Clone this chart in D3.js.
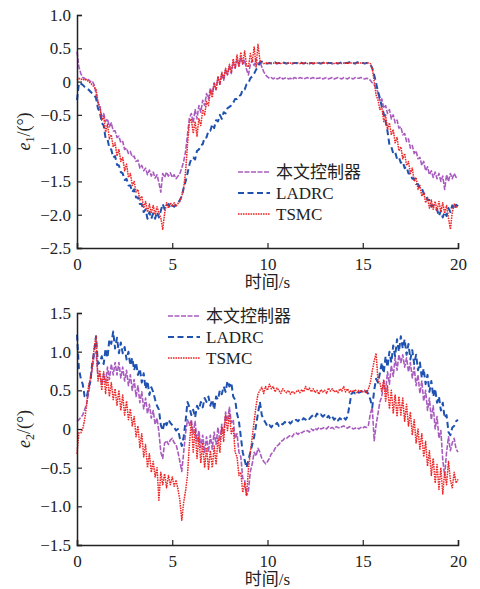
<!DOCTYPE html>
<html>
<head>
<meta charset="utf-8">
<script src="https://cdn.jsdelivr.net/npm/d3@7"></script>
<style>
  body { margin: 0; background: #fff; }
</style>
</head>
<body>
<svg id="svg" width="480" height="589"></svg>
<script>
const FONT = "'Liberation Serif', 'Times New Roman', 'Noto Sans CJK SC', serif";

// sample times, 0 .. 20 s every 0.1 s
const time = d3.range(0, 201).map(i => i / 10);

const seriesNames = ["本文控制器", "LADRC", "TSMC"];
const xTicks = [0, 5, 10, 15, 20];
const e1Ticks = [1.0, 0.5, 0, -0.5, -1.0, -1.5, -2.0, -2.5];
const e2Ticks = [1.5, 1.0, 0.5, 0, -0.5, -1.0, -1.5];

// e1, proposed controller
const e1Ours = [
  0.45, 0.22, 0.12, 0.06, 0.05, 0.02, 0.03, 0.0, 0.01, -0.05,
  -0.18, -0.32, -0.38, -0.52, -0.48, -0.6, -0.56, -0.68, -0.62, -0.74,
  -0.74, -0.84, -0.82, -0.92, -0.9, -1.02, -1.0, -1.08, -1.05, -1.13,
  -1.12, -1.2, -1.18, -1.3, -1.26, -1.34, -1.3, -1.4, -1.33, -1.42,
  -1.36, -1.45, -1.4, -1.52, -1.66, -1.38, -1.44, -1.36, -1.42, -1.37,
  -1.44, -1.4, -1.46, -1.42, -1.38, -1.3, -1.2, -1.05, -0.8, -0.55,
  -0.48, -0.62, -0.42, -0.56, -0.36, -0.46, -0.28, -0.36, -0.18, -0.26,
  -0.1, -0.18, -0.02, -0.12, 0.06, -0.04, 0.12, 0.02, 0.18, 0.1,
  0.24, 0.12, 0.3, 0.2, 0.34, 0.24, 0.36, 0.26, 0.32, 0.18,
  0.1, 0.26, 0.32, 0.24, 0.34, 0.26, 0.3, 0.22, 0.15, 0.1,
  0.07, 0.05, 0.06, 0.04, 0.06, 0.04, 0.05, 0.07, 0.04, 0.05,
  0.06, 0.04, 0.05, 0.03, 0.06, 0.05, 0.04, 0.06, 0.05, 0.04,
  0.05, 0.06, 0.04, 0.05, 0.06, 0.04, 0.05, 0.05, 0.06, 0.04,
  0.05, 0.06, 0.04, 0.05, 0.06, 0.04, 0.05, 0.06, 0.05, 0.04,
  0.06, 0.05, 0.04, 0.06, 0.05, 0.04, 0.06, 0.05, 0.05, 0.06,
  0.05, 0.04, 0.05, 0.04, 0.02, -0.02, -0.05, -0.1, -0.16, -0.3,
  -0.26, -0.4, -0.36, -0.48, -0.42, -0.56, -0.5, -0.62, -0.58, -0.7,
  -0.68, -0.8, -0.78, -0.9, -0.86, -1.0, -0.96, -1.08, -1.04, -1.16,
  -1.14, -1.26, -1.2, -1.34, -1.28, -1.4, -1.34, -1.44, -1.36, -1.46,
  -1.38, -1.5, -1.42, -1.62, -1.4, -1.5, -1.38, -1.46, -1.38, -1.44,
  -1.42
];

// e1, LADRC
const e1Ladrc = [
  -0.28, -0.02, -0.03, -0.05, -0.08, -0.1, -0.12, -0.15, -0.18, -0.2,
  -0.25, -0.4, -0.46, -0.62, -0.66, -0.85, -0.86, -1.0, -1.02, -1.14,
  -1.12, -1.25, -1.26, -1.36, -1.38, -1.48, -1.46, -1.56, -1.56, -1.66,
  -1.62, -1.74, -1.74, -1.84, -1.84, -1.96, -1.92, -2.06, -1.96, -2.06,
  -1.98, -2.06, -1.96, -2.04, -1.94, -1.84, -1.92, -1.86, -1.84, -1.9,
  -1.86, -1.88, -1.85, -1.82, -1.78, -1.72, -1.6, -1.5, -1.38, -1.25,
  -1.16, -1.14, -1.17, -1.04, -1.02, -0.96, -0.94, -0.84, -0.84, -0.74,
  -0.74, -0.64, -0.7, -0.58, -0.6, -0.5, -0.56, -0.46, -0.48, -0.4,
  -0.38, -0.36, -0.32, -0.26, -0.26, -0.22, -0.2, -0.12, -0.12, -0.04,
  -0.02, 0.05, 0.08, 0.12, 0.18, 0.22, 0.28, 0.3, 0.28, 0.27,
  0.27, 0.28, 0.27, 0.28, 0.29, 0.27, 0.28, 0.27, 0.29, 0.28,
  0.27, 0.28, 0.29, 0.27, 0.28, 0.28, 0.27, 0.29, 0.28, 0.27,
  0.28, 0.29, 0.27, 0.28, 0.27, 0.28, 0.29, 0.28, 0.27, 0.28,
  0.29, 0.27, 0.28, 0.28, 0.27, 0.29, 0.28, 0.27, 0.28, 0.29,
  0.27, 0.28, 0.28, 0.29, 0.27, 0.28, 0.27, 0.29, 0.28, 0.28,
  0.28, 0.27, 0.28, 0.27, 0.26, 0.2, 0.1, -0.02, -0.15, -0.25,
  -0.38, -0.48, -0.6, -0.75, -0.95, -0.98, -1.08, -1.06, -1.16, -1.14,
  -1.22, -1.2, -1.3, -1.28, -1.38, -1.38, -1.46, -1.46, -1.54, -1.54,
  -1.6, -1.6, -1.68, -1.7, -1.78, -1.78, -1.88, -1.86, -1.92, -1.92,
  -2.02, -1.94, -2.04, -1.96, -2.02, -1.9, -1.96, -1.86, -1.92, -1.85,
  -1.87
];

// e1, TSMC
const e1Tsmc = [
  0.02, 0.05, 0.03, 0.04, 0.02, 0.03, 0.0, -0.02, -0.05, -0.08,
  -0.12, -0.3, -0.38, -0.58, -0.52, -0.76, -0.64, -0.86, -0.8, -0.98,
  -0.92, -1.12, -1.02, -1.2, -1.14, -1.34, -1.24, -1.44, -1.38, -1.56,
  -1.5, -1.66, -1.62, -1.78, -1.72, -1.9, -1.8, -1.96, -1.84, -1.98,
  -1.86, -2.0, -1.88, -1.98, -2.05, -2.22, -1.98, -1.82, -1.9, -1.82,
  -1.88, -1.82, -1.87, -1.83, -1.8, -1.72, -1.6, -1.35, -0.95, -0.62,
  -0.56, -0.78, -0.6, -0.82, -0.56, -0.66, -0.42, -0.5, -0.3, -0.36,
  -0.14, -0.24, -0.02, -0.12, 0.08, -0.04, 0.14, 0.04, 0.2, 0.1,
  0.26, 0.14, 0.34, 0.2, 0.4, 0.22, 0.44, 0.26, 0.46, 0.24,
  0.22, 0.42, 0.3, 0.52, 0.22, 0.56, 0.32, 0.28, 0.27, 0.28,
  0.28, 0.27, 0.28, 0.28, 0.27, 0.28, 0.28, 0.27, 0.28, 0.28,
  0.27, 0.28, 0.28, 0.27, 0.28, 0.28, 0.28, 0.27, 0.28, 0.28,
  0.28, 0.27, 0.28, 0.28, 0.27, 0.28, 0.28, 0.28, 0.27, 0.28,
  0.28, 0.28, 0.27, 0.28, 0.28, 0.27, 0.28, 0.28, 0.28, 0.27,
  0.28, 0.28, 0.27, 0.28, 0.28, 0.28, 0.27, 0.28, 0.28, 0.28,
  0.28, 0.27, 0.28, 0.28, 0.27, 0.2, 0.0, -0.2, -0.28, -0.42,
  -0.38, -0.6, -0.5, -0.72, -0.62, -0.8, -0.72, -0.92, -0.84, -1.04,
  -0.98, -1.16, -1.08, -1.26, -1.2, -1.38, -1.3, -1.5, -1.44, -1.62,
  -1.56, -1.72, -1.66, -1.82, -1.74, -1.9, -1.78, -1.92, -1.8, -1.94,
  -1.8, -1.96, -1.82, -1.98, -1.86, -2.05, -2.22, -1.96, -1.84, -1.9,
  -1.86
];

// e2, proposed controller
const e2Ours = [
  0.1, 0.12, 0.15, 0.18, 0.25, 0.32, 0.45, 0.6, 0.78, 0.95,
  1.0, 0.68, 0.7, 0.58, 0.72, 0.6, 0.8, 0.64, 0.84, 0.7,
  0.86, 0.7, 0.86, 0.66, 0.8, 0.62, 0.76, 0.56, 0.7, 0.5,
  0.64, 0.42, 0.56, 0.34, 0.48, 0.26, 0.4, 0.2, 0.32, 0.14,
  0.24, 0.06, 0.14, -0.04, -0.3, -0.38, -0.18, -0.15, -0.2, -0.14,
  -0.12, -0.18, -0.2, -0.3, -0.42, -0.55, -0.3, -0.05, 0.12, 0.05,
  0.12, -0.06, 0.1, -0.16, -0.02, -0.24, -0.08, -0.3, -0.1, -0.3,
  -0.08, -0.26, -0.04, -0.2, 0.02, -0.16, 0.06, -0.06, 0.22, 0.1,
  0.28, 0.08, 0.12, -0.12, -0.06, -0.3, -0.36, -0.64, -0.66, -0.86,
  -0.8, -0.55, -0.45, -0.3, -0.35, -0.25, -0.3, -0.38, -0.42, -0.45,
  -0.42, -0.38, -0.32, -0.3, -0.25, -0.22, -0.2, -0.16, -0.15, -0.12,
  -0.12, -0.1, -0.08, -0.1, -0.06, -0.05, -0.07, -0.04, -0.05, -0.03,
  -0.03, -0.02, -0.04, 0.0, -0.02, 0.01, -0.01, 0.02, 0.0, 0.01,
  0.02, 0.0, 0.03, 0.01, 0.02, 0.0, 0.03, 0.02, 0.01, 0.03,
  0.04, 0.02, 0.01, 0.03, 0.02, 0.0, 0.01, 0.02, 0.0, 0.02,
  0.01, 0.03, 0.02, 0.05, 0.2, 0.28, -0.15, 0.05, 0.2, 0.35,
  0.42, 0.62, 0.48, 0.74, 0.58, 0.82, 0.68, 0.92, 0.76, 0.96,
  0.86, 0.96, 0.8, 0.92, 0.74, 0.86, 0.66, 0.8, 0.56, 0.7,
  0.46, 0.62, 0.36, 0.5, 0.24, 0.4, 0.12, 0.3, 0.0, 0.16,
  -0.12, -0.02, -0.4, -0.6, -0.3, -0.1, -0.28, -0.18, -0.12, -0.26,
  -0.3
];

// e2, LADRC
const e2Ladrc = [
  1.22, 0.78, 0.65, 0.58, 0.42, 0.4, 0.52, 0.62, 0.85, 1.0,
  1.2, 0.84, 0.86, 0.94, 0.84, 1.04, 0.92, 1.16, 1.1, 1.26,
  1.04, 1.18, 0.98, 1.12, 0.98, 1.06, 0.9, 1.0, 0.82, 0.92,
  0.76, 0.86, 0.7, 0.78, 0.6, 0.72, 0.52, 0.62, 0.44, 0.54,
  0.48, 0.38, 0.3, 0.25, 0.05, -0.02, 0.1, 0.05, 0.12, 0.08,
  0.05, 0.02, -0.02, 0.0, -0.12, -0.22, -0.1, 0.1, 0.35, 0.28,
  0.18, 0.25, 0.15, 0.3, 0.25, 0.35, 0.28, 0.4, 0.35, 0.42,
  0.3, 0.38, 0.25, 0.42, 0.38, 0.5, 0.45, 0.55, 0.48, 0.62,
  0.55, 0.6, 0.42, 0.38, 0.2, 0.1, -0.1, -0.3, -0.4, -0.5,
  -0.4, -0.3, -0.2, -0.1, 0.05, 0.2, 0.35, 0.18, 0.12, 0.08,
  0.03, 0.05, 0.02, 0.06, 0.05, 0.08, 0.04, 0.07, 0.06, 0.09,
  0.08, 0.1, 0.07, 0.1, 0.09, 0.12, 0.1, 0.13, 0.11, 0.14,
  0.12, 0.15, 0.13, 0.16, 0.18, 0.15, 0.2, 0.17, 0.19, 0.16,
  0.18, 0.14, 0.17, 0.13, 0.16, 0.12, 0.15, 0.11, 0.14, 0.12,
  0.15, 0.12, 0.16, 0.3, 0.45, 0.48, 0.46, 0.49, 0.47, 0.48,
  0.5, 0.47, 0.49, 0.45, 0.38, 0.28, 0.5, 0.65, 0.6, 0.72,
  0.86, 0.72, 0.94, 0.8, 1.0, 0.86, 1.08, 0.94, 1.16, 1.0,
  1.2, 1.04, 1.16, 0.96, 1.1, 0.9, 1.02, 0.84, 0.96, 0.76,
  0.86, 0.66, 0.78, 0.58, 0.7, 0.48, 0.62, 0.42, 0.52, 0.34,
  0.42, 0.24, 0.34, 0.14, 0.18, -0.04, -0.08, 0.02, 0.04, 0.1,
  0.12
];

// e2, TSMC
const e2Tsmc = [
  -0.32, -0.05, -0.05, 0.0, 0.12, 0.3, 0.55, 0.65, 0.8, 1.05,
  1.2, 0.62, 0.76, 0.5, 0.74, 0.46, 0.68, 0.42, 0.6, 0.38,
  0.52, 0.3, 0.5, 0.24, 0.44, 0.18, 0.36, 0.12, 0.26, 0.04,
  0.16, -0.1, 0.04, -0.24, -0.06, -0.36, -0.2, -0.5, -0.32, -0.56,
  -0.42, -0.62, -0.5, -0.92, -0.56, -0.72, -0.58, -0.76, -0.6, -0.72,
  -0.62, -0.74, -0.66, -0.78, -0.92, -1.18, -0.95, -0.8, -0.6, -0.2,
  0.1, -0.3, 0.0, -0.38, -0.1, -0.44, -0.18, -0.5, -0.24, -0.52,
  -0.28, -0.5, -0.22, -0.46, -0.12, -0.3, 0.02, -0.16, 0.18, -0.02,
  0.2, -0.06, 0.02, -0.3, -0.36, -0.6, -0.56, -0.82, -0.7, -0.86,
  -0.52, -0.3, -0.1, 0.1, 0.3, 0.45, 0.5, 0.54, 0.46, 0.55,
  0.5, 0.58, 0.52, 0.55, 0.48, 0.53, 0.5, 0.46, 0.52, 0.49,
  0.47, 0.5, 0.45, 0.49, 0.46, 0.48, 0.5, 0.47, 0.51, 0.48,
  0.55, 0.5, 0.53, 0.48, 0.52, 0.47, 0.5, 0.45, 0.51, 0.48,
  0.5, 0.46, 0.53, 0.49, 0.52, 0.48, 0.5, 0.47, 0.52, 0.49,
  0.55, 0.48, 0.52, 0.47, 0.5, 0.48, 0.51, 0.47, 0.5, 0.49,
  0.48, 0.5, 0.47, 0.52, 0.6, 0.75, 0.88, 0.98, 0.62, 0.6,
  0.48, 0.64, 0.36, 0.56, 0.26, 0.5, 0.2, 0.44, 0.16, 0.42,
  0.18, 0.4, 0.1, 0.32, 0.04, 0.22, -0.08, 0.12, -0.18, 0.0,
  -0.26, -0.06, -0.36, -0.16, -0.48, -0.28, -0.6, -0.38, -0.7, -0.46,
  -0.78, -0.5, -0.84, -0.56, -0.72, -0.42, -0.66, -0.76, -0.56, -0.7,
  -0.65
];

const styles = [
  { color: "#a95cbf", width: 1.6, dash: "5,1.5" },
  { color: "#1f52b0", width: 2, dash: "6,3.5" },
  { color: "#ee2424", width: 1.5, dash: "1.6,0.9" }
];

let svg = d3.select("svg");

function panel({ series, ticks, yDomain, top, bottom, label, legendX, legendY, legendLen, legendGap }) {
  let left = 77, right = 458;
  let x = d3.scaleLinear().domain([0, 20]).range([left, right]);
  let y = d3.scaleLinear().domain(yDomain).range([bottom, top]);
  let g = svg.append("g");

  let line = d3.line()
    .x((d, i) => x(time[i]))
    .y(d => y(d));

  series.forEach((s, k) => {
    g.append("path")
      .datum(s)
      .attr("fill", "none")
      .attr("stroke", styles[k].color)
      .attr("stroke-width", styles[k].width)
      .attr("stroke-dasharray", styles[k].dash)
      .attr("stroke-linejoin", "round")
      .attr("d", line);
  });

  // axes, ticks pointing inward
  let xAxis = g.append("g")
    .attr("transform", "translate(0," + bottom + ")")
    .call(d3.axisTop(x).tickValues(xTicks).tickSize(5).tickFormat(d3.format("d")));
  xAxis.selectAll("text")
    .attr("y", 10)
    .attr("dy", "0.71em");

  let yAxis = g.append("g")
    .attr("transform", "translate(" + left + ",0)")
    .call(d3.axisRight(y).tickValues(ticks).tickSize(5)
      .tickFormat(d => d === 0 ? "0" : d3.format(".1f")(d).replace("-", "−")));
  yAxis.selectAll("text")
    .attr("x", -6)
    .attr("text-anchor", "end");

  [xAxis, yAxis].forEach(a => {
    a.attr("font-family", null).attr("font-size", null);
    a.select(".domain").attr("stroke", "#222").attr("stroke-width", 1.5);
    a.selectAll(".tick line").attr("stroke", "#222").attr("stroke-width", 1.2);
    a.selectAll("text")
      .attr("fill", "#222")
      .style("font-family", FONT)
      .style("font-size", "17px");
  });

  g.append("text")
    .attr("x", (left + right) / 2)
    .attr("y", bottom + 40)
    .attr("text-anchor", "middle")
    .style("font-family", FONT)
    .style("font-size", "17px")
    .attr("fill", "#222")
    .text("时间/s");

  let yl = g.append("text")
    .attr("transform", "translate(30," + ((top + bottom) / 2) + ") rotate(-90)")
    .attr("text-anchor", "middle")
    .style("font-family", FONT)
    .style("font-size", "18px")
    .attr("fill", "#222");
  yl.append("tspan").style("font-style", "italic").text("e");
  yl.append("tspan").attr("dy", 4).style("font-size", "12px").text(label);
  yl.append("tspan").attr("dy", -4).text("/(°)");

  seriesNames.forEach((name, k) => {
    let ly = legendY + k * legendGap;
    g.append("line")
      .attr("x1", legendX).attr("x2", legendX + legendLen)
      .attr("y1", ly).attr("y2", ly)
      .attr("stroke", styles[k].color)
      .attr("stroke-width", styles[k].width)
      .attr("stroke-dasharray", styles[k].dash);
    g.append("text")
      .attr("x", legendX + legendLen + 6)
      .attr("y", ly)
      .attr("dy", "0.35em")
      .style("font-family", FONT)
      .style("font-size", "17px")
      .attr("fill", "#222")
      .text(name);
  });
}

panel({
  series: [e1Ours, e1Ladrc, e1Tsmc],
  ticks: e1Ticks, yDomain: [-2.5, 1.0], top: 15, bottom: 248, label: "1",
  legendX: 238, legendY: 172, legendLen: 32, legendGap: 21
});

panel({
  series: [e2Ours, e2Ladrc, e2Tsmc],
  ticks: e2Ticks, yDomain: [-1.5, 1.5], top: 313, bottom: 545, label: "2",
  legendX: 168, legendY: 316, legendLen: 32, legendGap: 21
});
</script>
</body>
</html>
